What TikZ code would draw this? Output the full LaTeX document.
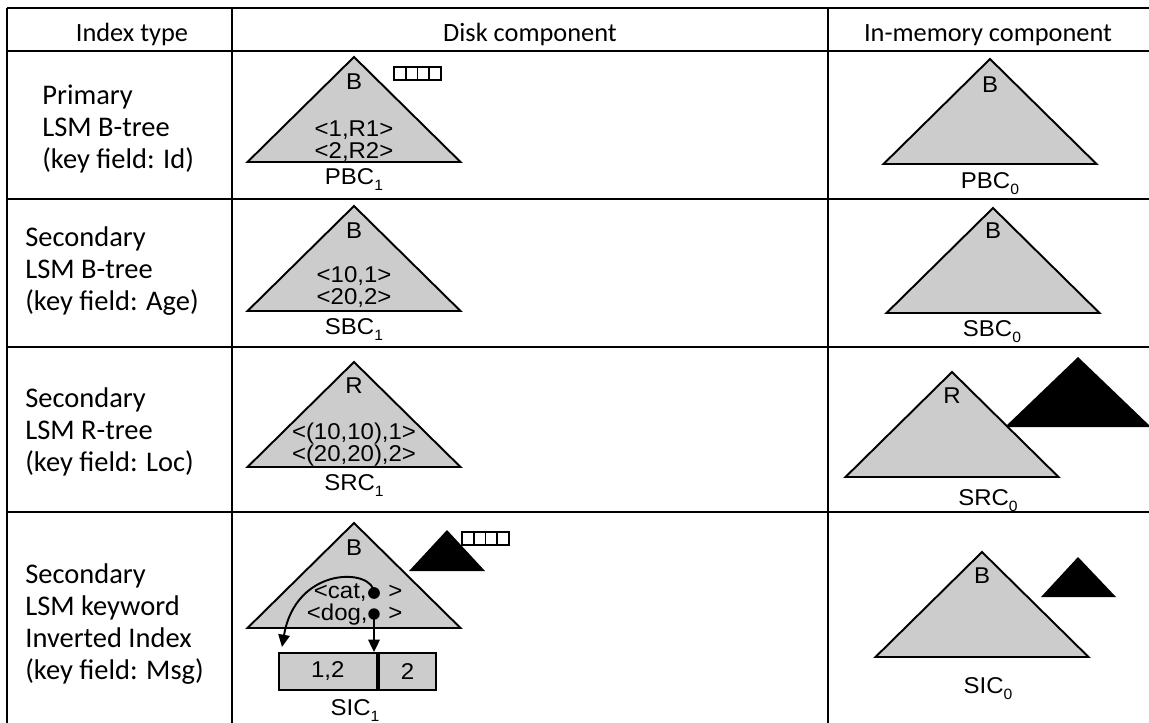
\documentclass[tikz,border=0pt]{standalone}
\usepackage{fontspec}
\setmainfont{Carlito}
\newfontfamily\treefont[FakeStretch=1.05]{Liberation Sans}
\usetikzlibrary{arrows.meta}
\definecolor{treegray}{RGB}{204,204,204}
\newcommand\sub[1]{\raisebox{-0.5ex}{\fontsize{8.5}{9}\selectfont#1}}
\tikzset{
  rule/.style={line width=1.5pt},
  treebody/.style={draw, line width=1.1pt, fill=treegray, line join=miter},
  shadow/.style={fill=black},
  head/.style={font=\fontsize{15}{17}\selectfont, anchor=base, inner sep=0pt},
  idx/.style={font=\fontsize{16.2}{18.3}\selectfont, align=left, anchor=west, inner sep=0pt},
  tl/.style={font=\treefont\fontsize{13}{15}\selectfont, anchor=base, inner sep=0pt},
  cell/.style={draw, line width=1.1pt, fill=treegray, anchor=north west, inner sep=0pt,
    minimum height=21pt, font=\treefont\fontsize{13}{15}\selectfont},
  ptr/.style={line width=1.1pt, -{Triangle[length=7pt,width=6.5pt]}},
  dot/.style={fill=black, circle, inner sep=0pt, minimum size=6.5pt},
  pics/gtree/.style={code={\path[treebody] (0,0) -- (-106.5,105) -- (106.5,105) -- cycle;}},
  pics/buffer/.style={code={
    \draw[line width=1pt] (0,0) rectangle (47,13);
    \foreach \i in {1,2,3} \draw[line width=1pt] (\i*11.75,0) -- (\i*11.75,13);}},
}
\begin{document}
\begin{tikzpicture}[x=0.02cm, y=-0.02cm]
\useasboundingbox (0,0) rectangle (1149,723);

% table rules
\foreach \yy in {8,51,199,347,512} \draw[rule] (7,\yy) -- (1149,\yy);
\foreach \xx in {7,232,828} \draw[rule] (\xx,8) -- (\xx,723);

% header row
\node[head] (h1) at (132,42) {Index type};
\node[head] (h2) at (530,42) {Disk component};
\node[head] (h3) at (988,42) {In-memory component};

% index type column
\node[idx] (r1) at (42,129) {Primary\\LSM B-tree\\(key field: Id)};
\node[idx] (r2) at (25,271) {Secondary\\LSM B-tree\\(key field: Age)};
\node[idx] (r3) at (25,432) {Secondary\\LSM R-tree\\(key field: Loc)};
\node[idx] (r4) at (25,624) {Secondary\\LSM keyword\\Inverted Index\\(key field: Msg)};

% ---- primary B-tree
\pic at (354,57) {gtree};
\pic at (394,67) {buffer};
\node[tl] (pb1) at (354,89.5) {B};
\node[tl] (pk1) at (354,136.5) {<1,R1>};
\node[tl] (pk2) at (354,158.5) {<2,R2>};
\node[tl] (pbc1) at (354,184.5) {PBC\sub{1}};

\pic at (990,59) {gtree};
\node[tl] (pb0) at (990,92) {B};
\node[tl] (pbc0) at (990,188) {PBC\sub{0}};

% ---- secondary B-tree
\pic at (354,206) {gtree};
\node[tl] (sb1) at (354,238.5) {B};
\node[tl] (sk1) at (354,282.5) {<10,1>};
\node[tl] (sk2) at (354,304.5) {<20,2>};
\node[tl] (sbc1) at (354,334) {SBC\sub{1}};

\pic at (993,208) {gtree};
\node[tl] (sb0) at (993,238) {B};
\node[tl] (sbc0) at (992,336) {SBC\sub{0}};

% ---- secondary R-tree
\pic at (354,362) {gtree};
\node[tl] (rr1) at (354,393) {R};
\node[tl] (rk1) at (354,439) {<(10,10),1>};
\node[tl] (rk2) at (354,461) {<(20,20),2>};
\node[tl] (src1) at (354,490.5) {SRC\sub{1}};

\fill[shadow] (1005,427) -- (1078,357) -- (1151,427) -- cycle;
\pic at (952,372) {gtree};
\node[tl] (rr0) at (952,403) {R};
\node[tl] (src0) at (988,505) {SRC\sub{0}};

% ---- inverted index
\pic at (354,523) {gtree};
\fill[shadow] (409,571) -- (447,530) -- (485,571) -- cycle;
\pic at (462,532) {buffer};
\node[tl] (ib1) at (354,555) {B};
\node[tl, anchor=base east] (cat) at (367,598) {<cat,};
\node[tl, anchor=base east] (dog) at (368,620) {<dog,};
\node[tl, anchor=base west] (catend) at (388,598) {>};
\node[tl, anchor=base west] (dogend) at (388,620) {>};
\node[cell, minimum width=55.6pt] (c12) at (278,652) {1,2};
\node[cell, minimum width=32.9pt] (c2) at (c12.north east) {2};
\coordinate (cattip) at (282,647);
\node[dot] (catdot) at (374,593) {};
\node[dot] (dogdot) at (374,614) {};
\draw[ptr] (catdot.center) .. controls (374,568) and (296,565) .. (cattip);
\draw[ptr] (dogdot.center) -- (dogdot |- c12.north);
\node[dot] at (catdot) {};
\node[tl] (sic1) at (355,715) {SIC\sub{1}};

\fill[shadow] (1041,597) -- (1078,557) -- (1116,597) -- cycle;
\pic at (982,552) {gtree};
\node[tl] (ib0) at (982,583) {B};
\node[tl] (sic0) at (988,693) {SIC\sub{0}};
\end{tikzpicture}
\end{document}
